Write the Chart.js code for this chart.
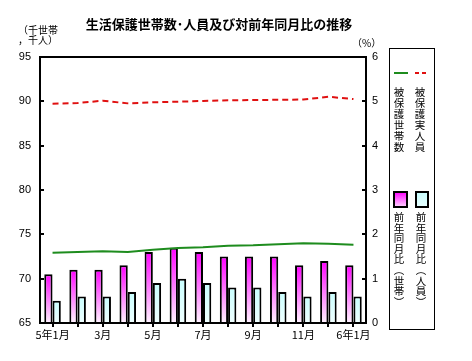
<!DOCTYPE html>
<html>
<head>
<meta charset="utf-8">
<script src="https://cdn.jsdelivr.net/npm/chart.js@4"></script>
<style>
html,body{margin:0;padding:0;background:#fff;}
#wrap{width:472px;height:361px;position:relative;}
</style>
</head>
<body>
<div id="wrap"><canvas id="c" width="472" height="361"></canvas></div>
<script>
const categories = ['5年1月','2月','3月','4月','5月','6月','7月','8月','9月','10月','11月','12月','6年1月'];
const tickLabels = ['5年1月','','3月','','5月','','7月','','9月','','11月','','6年1月'];
const households = [72.93, 73.0, 73.08, 73.0, 73.27, 73.46, 73.53, 73.72, 73.76, 73.88, 73.99, 73.95, 73.83];
const persons = [89.73, 89.81, 90.07, 89.77, 89.89, 89.96, 90.04, 90.11, 90.15, 90.17, 90.2, 90.52, 90.25];
const yoyHouseholds = [1.1, 1.2, 1.2, 1.3, 1.6, 1.7, 1.6, 1.5, 1.5, 1.5, 1.3, 1.4, 1.3];
const yoyPersons = [0.5, 0.6, 0.6, 0.7, 0.9, 1.0, 0.9, 0.8, 0.8, 0.7, 0.6, 0.7, 0.6];
const leftTicks = [65, 70, 75, 80, 85, 90, 95];
const rightTicks = [0, 1, 2, 3, 4, 5, 6];
const seriesNames = ['被保護世帯数', '被保護実人員', '前年同月比（世帯）', '前年同月比（人員）'];
const titleText = '生活保護世帯数･人員及び対前年同月比の推移';

const JP = '"Noto Sans CJK JP", "Noto Sans", sans-serif';

function barGradient(top, bottom) {
  return function(context) {
    const chart = context.chart;
    const ca = chart.chartArea;
    if (!ca || context.parsed === undefined) return top;
    const sc = chart.scales.y1;
    const yTop = sc.getPixelForValue(context.parsed.y);
    const yBot = sc.getPixelForValue(0);
    if (!isFinite(yTop) || yBot - yTop < 1) return top;
    const g = chart.ctx.createLinearGradient(0, yTop, 0, yBot);
    g.addColorStop(0, top);
    g.addColorStop(1, bottom);
    return g;
  };
}

const decor = {
  id: 'decor',
  afterDraw(chart) {
    const ctx = chart.ctx;
    const ca = chart.chartArea;
    ctx.save();
    ctx.strokeStyle = '#000';
    ctx.lineWidth = 2;
    ctx.strokeRect(ca.left, ca.top, ca.right - ca.left, ca.bottom - ca.top);
    const yL = chart.scales.y, yR = chart.scales.y1;
    leftTicks.forEach(v => {
      const p = Math.round(yL.getPixelForValue(v));
      ctx.beginPath(); ctx.moveTo(ca.left, p); ctx.lineTo(ca.left + 4, p); ctx.stroke();
    });
    rightTicks.forEach(v => {
      const p = Math.round(yR.getPixelForValue(v));
      ctx.beginPath(); ctx.moveTo(ca.right - 4, p); ctx.lineTo(ca.right, p); ctx.stroke();
    });
    ctx.fillStyle = '#000';
    ctx.font = 'bold 13px ' + JP;
    ctx.textAlign = 'center';
    ctx.textBaseline = 'middle';
    ctx.fillText(titleText, 219, 24);
    ctx.font = '10px ' + JP;
    ctx.textAlign = 'left';
    ctx.fillText('（千世帯', 18, 30);
    ctx.fillText('，千人）', 18, 40);
    ctx.fillText('（%）', 352, 43);
    ctx.lineWidth = 1;
    ctx.strokeRect(389.5, 48.5, 45, 281);
    ctx.lineWidth = 2;
    ctx.strokeStyle = '#1e8c1e';
    ctx.beginPath(); ctx.moveTo(394, 73); ctx.lineTo(408, 73); ctx.stroke();
    ctx.strokeStyle = '#e01010';
    ctx.setLineDash([4, 3]);
    ctx.beginPath(); ctx.moveTo(415, 73); ctx.lineTo(429, 73); ctx.stroke();
    ctx.setLineDash([]);
    let g1 = ctx.createLinearGradient(0, 192, 0, 207);
    g1.addColorStop(0, '#ff00ff'); g1.addColorStop(1, '#ffd8ff');
    ctx.fillStyle = g1; ctx.fillRect(394, 192, 13, 15);
    ctx.strokeStyle = '#000'; ctx.strokeRect(394, 192, 13, 15);
    let g2 = ctx.createLinearGradient(0, 192, 0, 207);
    g2.addColorStop(0, '#c8ffff'); g2.addColorStop(1, '#e8ffff');
    ctx.fillStyle = g2; ctx.fillRect(416, 192, 12, 15);
    ctx.strokeRect(416, 192, 12, 15);
    ctx.fillStyle = '#000';
    ctx.font = '10.5px ' + JP;
    ctx.textAlign = 'center';
    ctx.textBaseline = 'middle';
    const vmap = {'（': '︵', '）': '︶'};
    function vtext(s, x, y, step) {
      [...s].forEach((ch, i) => ctx.fillText(vmap[ch] || ch, x, y + i * step));
    }
    vtext(seriesNames[0], 399, 92, 11);
    vtext(seriesNames[1], 420, 92, 11);
    vtext(seriesNames[2], 399, 217, 10.6);
    vtext(seriesNames[3], 421, 217, 10.6);
    ctx.restore();
  }
};

new Chart(document.getElementById('c'), {
  data: {
    labels: categories,
    datasets: [
      {
        type: 'line', label: seriesNames[0], data: households, yAxisID: 'y',
        borderColor: '#1e8c1e', borderWidth: 2, pointRadius: 0, tension: 0, order: 1, fill: false
      },
      {
        type: 'line', label: seriesNames[1], data: persons, yAxisID: 'y',
        borderColor: '#e01010', borderWidth: 2, borderDash: [6, 4], pointRadius: 0, tension: 0, order: 0, fill: false
      },
      {
        type: 'bar', label: seriesNames[2], data: yoyHouseholds, yAxisID: 'y1',
        backgroundColor: barGradient('#ff00ff', '#fff4ff'), borderColor: '#000', borderWidth: 2,
        categoryPercentage: 0.66, barPercentage: 1.0, order: 2
      },
      {
        type: 'bar', label: seriesNames[3], data: yoyPersons, yAxisID: 'y1',
        backgroundColor: barGradient('#c8ffff', '#f0ffff'), borderColor: '#000', borderWidth: 2,
        categoryPercentage: 0.66, barPercentage: 1.0, order: 3
      }
    ]
  },
  options: {
    responsive: false,
    animation: false,
    layout: { padding: { top: 57, left: 0, right: 82, bottom: 0 } },
    plugins: { legend: { display: false }, title: { display: false }, tooltip: { enabled: false } },
    scales: {
      x: {
        offset: true,
        grid: { display: true, offset: false, drawOnChartArea: false, drawTicks: true, tickLength: 4, color: '#000', lineWidth: 2 },
        border: { display: false },
        ticks: {
          autoSkip: false, maxRotation: 0, minRotation: 0, padding: 1,
          color: '#000', font: { size: 11, family: JP },
          callback: (v, i) => tickLabels[i]
        },
        afterFit: s => { s.height = 38; }
      },
      y: {
        position: 'left', min: 65, max: 95,
        grid: { display: false, drawTicks: false },
        border: { display: false },
        ticks: { stepSize: 5, padding: 9, color: '#000', font: { size: 11, family: '"Liberation Sans", Arial, sans-serif' } },
        afterBuildTicks: s => { s.ticks = leftTicks.map(v => ({ value: v })); },
        afterFit: s => { s.width = 40; }
      },
      y1: {
        position: 'right', min: 0, max: 6,
        grid: { display: false, drawTicks: false },
        border: { display: false },
        ticks: { stepSize: 1, padding: 6, color: '#000', font: { size: 11, family: '"Liberation Sans", Arial, sans-serif' } },
        afterBuildTicks: s => { s.ticks = rightTicks.map(v => ({ value: v })); },
        afterFit: s => { s.width = 24; }
      }
    }
  },
  plugins: [decor]
});
</script>
</body>
</html>
